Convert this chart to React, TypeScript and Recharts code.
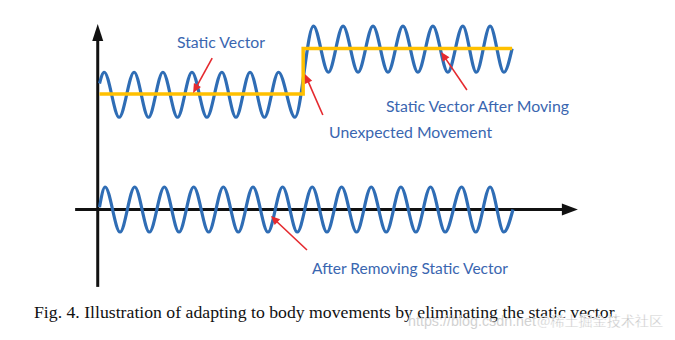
import React from 'react';
import { LineChart, Line, XAxis, YAxis, ReferenceLine, ReferenceDot } from 'recharts';

// Raw signal (with the static vector): time (periods) and value
const rawTime = [0.06, 0.22, 0.73, 1.24, 1.73, 2.22, 2.72, 3.21, 3.72, 4.23, 4.71, 5.19, 5.68, 6.16, 6.72,
  7.35, 7.86, 8.36, 8.87, 9.38, 9.89, 10.4, 10.91, 11.42, 11.93, 12.44, 12.9, 13.37, 13.84, 14.12];
const rawValue = [5.6, 6.1, 4.1, 6.1, 4.1, 6.1, 4.1, 6.1, 4.1, 6.1, 4.1, 6.1, 4.1, 6.1, 4.1,
  8.15, 6.1, 8.15, 6.1, 8.15, 6.1, 8.15, 6.1, 8.15, 6.1, 8.15, 6.1, 8.15, 6.1, 7.15];

// Signal after removing the static vector
const cleanTime = [0.06, 0.25, 0.76, 1.26, 1.76, 2.27, 2.77, 3.27, 3.78, 4.28, 4.79, 5.29, 5.8, 6.3, 6.8,
  7.31, 7.81, 8.31, 8.82, 9.32, 9.83, 10.33, 10.84, 11.34, 11.84, 12.4, 12.88, 13.37, 13.84, 14.15];
const cleanValue = [0.1, 1, -1, 1, -1, 1, -1, 1, -1, 1, -1, 1, -1, 1, -1,
  1, -1, 1, -1, 1, -1, 1, -1, 1, -1, 1, -1, 1, -1, 0];

// Static vector (step)
const staticTime = [0.06, 7.0, 14.12];
const staticValue = [5.13, 7.15, 7.15];

// Annotation texts
const labelTexts = ['Static Vector', 'Static Vector After Moving', 'Unexpected Movement', 'After Removing Static Vector'];
const labelT = [4.2, 12.94, 10.66, 10.64];
const labelV = [7.44, 4.6, 3.44, -2.6];
const labelW = [88, 183, 163, 196];

// Annotation arrows (tail -> tip)
const arrowTailT = [3.9, 7.67, 12.58, 7.13];
const arrowTailV = [6.73, 4.2, 5.31, -1.8];
const arrowTipT = [3.25, 7.06, 11.7, 5.9];
const arrowTipV = [5.18, 6.02, 7.0, -0.29];

const caption = 'Fig. 4.  Illustration of adapting to body movements by eliminating the static vector.';

const rawData = rawTime.map((t, i) => ({ t, v: rawValue[i] }));
const cleanData = cleanTime.map((t, i) => ({ t, v: cleanValue[i] }));
const staticData = staticTime.map((t, i) => ({ t, v: staticValue[i] }));

const BLUE = '#2F6DB5';
const GOLD = '#FFC000';
const RED = '#E52A2F';
const TEXT_BLUE = '#3A66B0';

const arrowShape = (head: number, half: number, color: string, width: number) => (props: any) => {
  const { x1, y1, x2, y2 } = props;
  const dx = x2 - x1;
  const dy = y2 - y1;
  const len = Math.hypot(dx, dy) || 1;
  const ux = dx / len;
  const uy = dy / len;
  const bx = x2 - ux * head;
  const by = y2 - uy * head;
  const px = -uy * half;
  const py = ux * half;
  return (
    <g>
      <line x1={x1} y1={y1} x2={bx + ux} y2={by + uy} stroke={color} strokeWidth={width} />
      <polygon points={`${x2},${y2} ${bx + px},${by + py} ${bx - px},${by - py}`} fill={color} />
    </g>
  );
};

const textShape = (text: string, w: number) => (props: any) => (
  <text
    x={props.cx}
    y={props.cy}
    textAnchor="middle"
    dominantBaseline="central"
    fontFamily="Lato, 'Open Sans', sans-serif"
    fontSize={15.5}
    fill={TEXT_BLUE}
    textLength={w}
    lengthAdjust="spacingAndGlyphs"
  >
    {text}
  </text>
);

export default function App() {
  return (
    <div style={{ position: 'absolute', left: 0, top: 0, width: 675, height: 340, background: '#fff' }}>
      <LineChart width={675} height={340} margin={{ top: 0, right: 0, bottom: 0, left: 0 }}>
        <XAxis type="number" dataKey="t" domain={[-3.33, 19.67]} allowDataOverflow hide />
        <YAxis type="number" domain={[-5.8, 9.31]} allowDataOverflow hide />
        <ReferenceLine
          segment={[{ x: 0, y: -3.44 }, { x: 0, y: 8.24 }]}
          stroke="#111"
          shape={arrowShape(17, 5.5, '#111', 3)}
        />
        <ReferenceLine
          segment={[{ x: -0.77, y: 0 }, { x: 16.36, y: 0 }]}
          stroke="#111"
          shape={arrowShape(16, 6, '#111', 3)}
        />
        <Line data={cleanData} dataKey="v" type="monotone" stroke={BLUE} strokeWidth={3.2} dot={false} activeDot={false} isAnimationActive={false} />
        <Line data={rawData} dataKey="v" type="monotone" stroke={BLUE} strokeWidth={3.2} dot={false} activeDot={false} isAnimationActive={false} />
        <Line data={staticData} dataKey="v" type="stepAfter" stroke={GOLD} strokeWidth={3.5} dot={false} activeDot={false} isAnimationActive={false} />
        {arrowTailT.map((t, i) => (
          <ReferenceLine
            key={`a${i}`}
            segment={[{ x: t, y: arrowTailV[i] }, { x: arrowTipT[i], y: arrowTipV[i] }]}
            stroke={RED}
            shape={arrowShape(9, 4, RED, 1.6)}
          />
        ))}
        {labelTexts.map((s, i) => (
          <ReferenceDot key={`l${i}`} x={labelT[i]} y={labelV[i]} r={0} shape={textShape(s, labelW[i])} />
        ))}
      </LineChart>
      <svg width={675} height={340} style={{ position: 'absolute', left: 0, top: 0, pointerEvents: 'none' }}>
        <text x={34} y={318} fontFamily="'Liberation Serif', serif" fontSize={16.5} fill="#111" textLength={584} lengthAdjust="spacingAndGlyphs">
          {caption}
        </text>
        <text x={408} y={326} fontFamily="'Liberation Sans', sans-serif" fontSize={15} fill="#d2d2d2" textLength={128} lengthAdjust="spacingAndGlyphs">
          https://blog.csdn.net
        </text>
        <text x={537} y={326} fontFamily="'Noto Sans CJK SC', sans-serif" fontSize={14} fill="#bdbdbd" stroke="#ffffff" strokeWidth={0.4} textLength={126} lengthAdjust="spacingAndGlyphs">
          @稀土掘金技术社区
        </text>
      </svg>
    </div>
  );
}
